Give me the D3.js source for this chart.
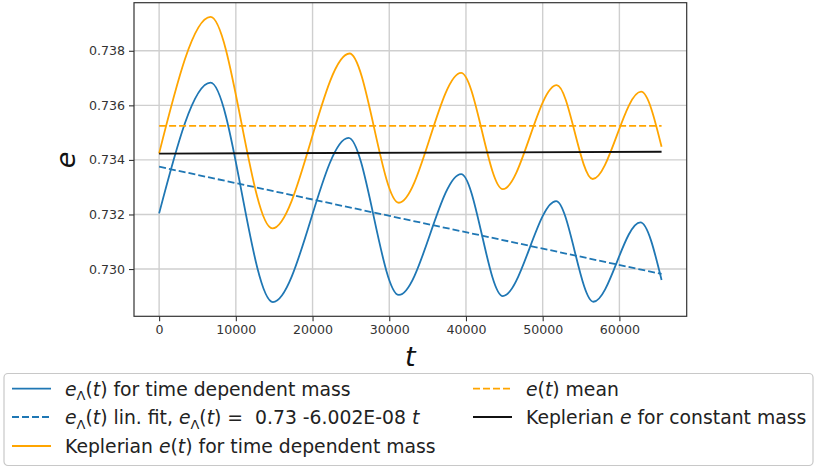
<!DOCTYPE html>
<html>
<head>
<meta charset="utf-8">
<script src="https://cdn.jsdelivr.net/npm/d3@7"></script>
<style>
  html, body { margin: 0; padding: 0; background: #fff; }
  svg { display: block; font-family: "DejaVu Sans", sans-serif; }
</style>
</head>
<body>
<svg id="chart" width="817" height="467"></svg>
<script>
// Turning points of the osculating eccentricity e_Λ(t) (time dependent mass)
const tLambda = [0, 6700, 14830, 24690, 31250, 39370, 44800, 51750, 56610, 62740, 65500];
const eLambda = [0.73204, 0.73683, 0.72879, 0.73481, 0.72905, 0.73348, 0.72901, 0.73249, 0.72880, 0.73171, 0.72960];

// Turning points of the Keplerian e(t) (time dependent mass)
const tKepler = [0, 6700, 14750, 24820, 31250, 39370, 44800, 51830, 56520, 62830, 65500];
const eKepler = [0.73424, 0.73924, 0.73149, 0.73790, 0.73243, 0.73719, 0.73293, 0.73674, 0.73330, 0.73650, 0.73448];

// Keplerian e for constant mass
const tConst = [0, 65500];
const eConst = [0.73423, 0.73430];

// Mean of the Keplerian e(t)
const eMean = 0.73525;

// Linear fit of e_Λ(t)
const fitIntercept = 0.73375;
const fitSlope = -6.002e-8;

// Axis ticks
const xTicks = [0, 10000, 20000, 30000, 40000, 50000, 60000];
const yTicks = [0.730, 0.732, 0.734, 0.736, 0.738];

const tStart = 0, tEnd = 65500;
const fitData = [tStart, tEnd].map(t => [t, fitIntercept + fitSlope * t]);
const meanData = [tStart, tEnd].map(t => [t, eMean]);
const lambdaData = tLambda.map((t, i) => [t, eLambda[i]]);
const keplerData = tKepler.map((t, i) => [t, eKepler[i]]);
const constData = tConst.map((t, i) => [t, eConst[i]]);

const svg = d3.select("#chart");
const plot = { left: 134, right: 686.7, top: 2.7, bottom: 316.3 };

// 5% padding around the data, on both axes
const allT = [...tLambda, ...tKepler, ...tConst];
const allE = [...eLambda, ...eKepler, ...eConst, eMean, ...fitData.map(d => d[1])];
const [t0, t1] = d3.extent(allT);
const [e0, e1] = d3.extent(allE);
const tPad = (t1 - t0) * 0.05, ePad = (e1 - e0) * 0.05;

const x = d3.scaleLinear().domain([t0 - tPad, t1 + tPad]).range([plot.left, plot.right]);
const y = d3.scaleLinear().domain([e0 - ePad, e1 + ePad]).range([plot.bottom, plot.top]);

// grid
const grid = svg.append("g").attr("stroke", "#cfcfcf").attr("stroke-width", 1.4);
grid.selectAll("line.gx").data(xTicks).join("line")
  .attr("x1", d => x(d)).attr("x2", d => x(d))
  .attr("y1", plot.top).attr("y2", plot.bottom);
grid.selectAll("line.gy").data(yTicks).join("line")
  .attr("y1", d => y(d)).attr("y2", d => y(d))
  .attr("x1", plot.left).attr("x2", plot.right);

// axes
const xAxis = d3.axisBottom(x).tickValues(xTicks).tickFormat(d3.format("d")).tickSize(5).tickPadding(4);
const yAxis = d3.axisLeft(y).tickValues(yTicks).tickFormat(d3.format(".3f")).tickSize(5).tickPadding(4);

const gx = svg.append("g").attr("transform", `translate(0,${plot.bottom})`).call(xAxis);
const gy = svg.append("g").attr("transform", `translate(${plot.left},0)`).call(yAxis);
[gx, gy].forEach(g => {
  g.select(".domain").remove();
  g.selectAll(".tick line").attr("stroke", "#333").attr("stroke-width", 1.1);
  g.selectAll(".tick text").attr("fill", "#333").attr("font-size", 12.6)
    .attr("font-family", "DejaVu Sans, sans-serif");
});

// series
const line = d3.line().x(d => x(d[0])).y(d => y(d[1]));
const smooth = d3.line().x(d => x(d[0])).y(d => y(d[1])).curve(d3.curveMonotoneX);
const blue = "#1f77b4", orange = "#ffa500";
const dashed = "7,3";

const series = svg.append("g").attr("fill", "none").attr("stroke-width", 1.8);
series.append("path").attr("d", smooth(lambdaData)).attr("stroke", blue);
series.append("path").attr("d", line(fitData)).attr("stroke", blue).attr("stroke-dasharray", dashed);
series.append("path").attr("d", smooth(keplerData)).attr("stroke", orange);
series.append("path").attr("d", line(meanData)).attr("stroke", orange).attr("stroke-dasharray", dashed);
series.append("path").attr("d", line(constData)).attr("stroke", "#111");

// frame
svg.append("rect")
  .attr("x", plot.left).attr("y", plot.top)
  .attr("width", plot.right - plot.left).attr("height", plot.bottom - plot.top)
  .attr("fill", "none").attr("stroke", "#333").attr("stroke-width", 1.2);

// axis titles
svg.append("text")
  .attr("transform", `translate(75,160) rotate(-90)`)
  .attr("text-anchor", "middle")
  .attr("font-size", 27).attr("font-style", "italic").attr("fill", "#111")
  .text("e");
svg.append("text")
  .attr("x", x(32750)).attr("y", 366)
  .attr("text-anchor", "middle")
  .attr("font-size", 27).attr("font-style", "italic").attr("fill", "#111")
  .text("t");

// legend
const legend = svg.append("g");
legend.append("rect")
  .attr("x", 4).attr("y", 373.5).attr("width", 809).attr("height", 92)
  .attr("rx", 4).attr("fill", "#fff").attr("stroke", "#c8c8c8").attr("stroke-width", 1.2);

function fmtSlope(v) {
  const [m, ex] = v.toExponential(3).split("e");
  const sign = ex[0] === "-" ? "-" : "+";
  const digits = ex.replace(/^[+-]/, "").padStart(2, "0");
  return `${m}E${sign}${digits}`;
}

// label parts: [text, style] where style is "i" italic, "s" subscript, "" plain
const eL = [["e", "i"], ["Λ", "s"], ["(", ""], ["t", "i"], [")", ""]];
const items = [
  { col: 0, row: 0, color: blue, dash: null,
    parts: [...eL, [" for time dependent mass", ""]] },
  { col: 0, row: 1, color: blue, dash: dashed,
    parts: [...eL, [" lin. fit, ", ""], ...eL, [" =  " + fitIntercept.toFixed(2) + " " + fmtSlope(fitSlope) + " ", ""], ["t", "i"]] },
  { col: 0, row: 2, color: orange, dash: null,
    parts: [["Keplerian ", ""], ["e", "i"], ["(", ""], ["t", "i"], [")", ""], [" for time dependent mass", ""]] },
  { col: 1, row: 0, color: orange, dash: dashed,
    parts: [["e", "i"], ["(", ""], ["t", "i"], [")", ""], [" mean", ""]] },
  { col: 1, row: 1, color: "#111", dash: null,
    parts: [["Keplerian ", ""], ["e", "i"], [" for constant mass", ""]] }
];
const colX = [12, 473];
const rowY = [388.7, 417, 446];

items.forEach(it => {
  const x0 = colX[it.col], yc = rowY[it.row];
  legend.append("line")
    .attr("x1", x0).attr("x2", x0 + 39).attr("y1", yc).attr("y2", yc)
    .attr("stroke", it.color).attr("stroke-width", 1.8)
    .attr("stroke-dasharray", it.dash);
  const txt = legend.append("text")
    .attr("x", x0 + 53).attr("y", yc + 7)
    .attr("font-size", 18.8).attr("fill", "#222");
  it.parts.forEach(([s, st]) => {
    const ts = txt.append("tspan").text(s).attr("xml:space", "preserve");
    if (st === "i") ts.attr("font-style", "italic");
    if (st === "s") ts.attr("font-size", 13).attr("dy", 4.5);
    if (st !== "s" && ts.node().previousSibling && ts.node().previousSibling.textContent === "Λ") ts.attr("dy", -4.5);
  });
});
</script>
</body>
</html>
